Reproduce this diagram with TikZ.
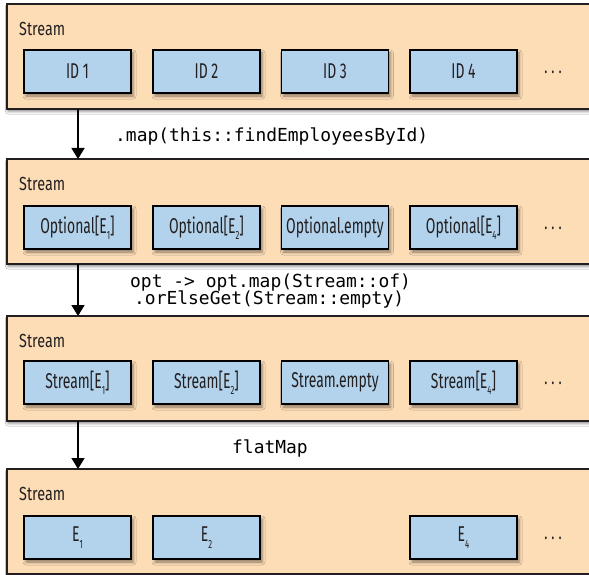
\documentclass[tikz,border=0pt]{standalone}
\usepackage{fontspec}
\setmainfont{Fira Sans}[FakeStretch=0.65]
\newfontfamily\titlefont{Fira Sans}[FakeStretch=0.76]
\setmonofont{DejaVu Sans Mono}
\usetikzlibrary{arrows.meta,shadows.blur}
\definecolor{peach}{RGB}{253,221,182}
\definecolor{cellblue}{RGB}{179,211,236}
\definecolor{ink}{RGB}{35,31,32}
\newcommand{\subsc}[1]{\raisebox{-0.3em}{\fontsize{12}{12}\selectfont #1}}
\begin{document}
\begin{tikzpicture}[x=1bp,y=-1bp,
  stage/.style={draw=ink, line width=1.6bp, fill=peach, anchor=north west,
    minimum width=600bp, minimum height=105bp, inner sep=0, outer sep=0,
    blur shadow={shadow xshift=1bp, shadow yshift=-2.5bp, shadow blur radius=2.5bp, shadow opacity=45}},
  cell/.style={draw=black, line width=1.8bp, fill=cellblue, minimum width=107bp,
    minimum height=43bp, inner sep=0, outer sep=0, text=ink, font=\fontsize{21.5}{25}\selectfont,
    blur shadow={shadow xshift=2bp, shadow yshift=-3bp, shadow blur radius=3bp, shadow opacity=45}},
  title/.style={anchor=west, inner sep=0, text=ink, font=\fontsize{19}{22}\titlefont},
  dots/.style={inner sep=0, text=ink, font=\fontsize{20}{24}\selectfont},
  code/.style={anchor=west, inner sep=0, text=black, font=\fontsize{18}{21}\selectfont\ttfamily},
  flow/.style={draw=black, line width=1.6bp, -{Triangle[width=13bp,length=11bp]}}
]
\useasboundingbox (0,0) rectangle (589,575);
\fill[white] (0,0) rectangle (589,575);

% stages
\node[stage] (s1) at (7,4) {};
\node[stage] (s2) at (7,159) {};
\node[stage] (s3) at (7,316) {};
\node[stage] (s4) at (7,469) {};

\node[title] (t1) at (19,29) {Stream};
\node[title] (t2) at (19,184) {Stream};
\node[title] (t3) at (19,341) {Stream};
\node[title] (t4) at (19,494) {Stream};

% row 1
\node[cell] (a1) at (77.5,71.5) {ID 1};
\node[cell] (a2) at (206.5,71.5) {ID 2};
\node[cell] (a3) at (335,71.5) {ID 3};
\node[cell] (a4) at (463.5,71.5) {ID 4};
\node[dots] (ad) at (553,72) {.\hspace{4bp}.\hspace{4bp}.};

% row 2
\node[cell] (b1) at (77.5,227.5) {Optional[E\subsc{1}]};
\node[cell] (b2) at (206.5,227.5) {Optional[E\subsc{2}]};
\node[cell] (b3) at (335,227.5) {Optional.empty};
\node[cell] (b4) at (463.5,227.5) {Optional[E\subsc{4}]};
\node[dots] (bd) at (553,228) {.\hspace{4bp}.\hspace{4bp}.};

% row 3
\node[cell] (c1) at (77.5,382.5) {Stream[E\subsc{1}]};
\node[cell] (c2) at (206.5,382.5) {Stream[E\subsc{2}]};
\node[cell] (c3) at (335,382.5) {Stream.empty};
\node[cell] (c4) at (463.5,382.5) {Stream[E\subsc{4}]};
\node[dots] (cd) at (553,383) {.\hspace{4bp}.\hspace{4bp}.};

% row 4
\node[cell] (d1) at (77.5,537.5) {E\subsc{1}};
\node[cell] (d2) at (206.5,537.5) {E\subsc{2}};
\node[cell] (d4) at (463.5,537.5) {E\subsc{4}};
\node[dots] (dd) at (553,538) {.\hspace{4bp}.\hspace{4bp}.};

% arrows
\draw[flow] ([xshift=71bp]s1.south west) -- ([xshift=71bp]s2.north west);
\draw[flow] ([xshift=71bp]s2.south west) -- ([xshift=71bp]s3.north west);
\draw[flow] ([xshift=71bp]s3.south west) -- ([xshift=71bp]s4.north west);

% labels
\node[code] (l1) at (115,137) {.map(this::findEmployeesById)};
\node[code] (l2) at (130,283) {opt -> opt.map(Stream::of)};
\node[code] (l3) at (134,300) {.orElseGet(Stream::empty)};
\node[code] (l4) at (232,448) {flatMap};
\end{tikzpicture}
\end{document}
